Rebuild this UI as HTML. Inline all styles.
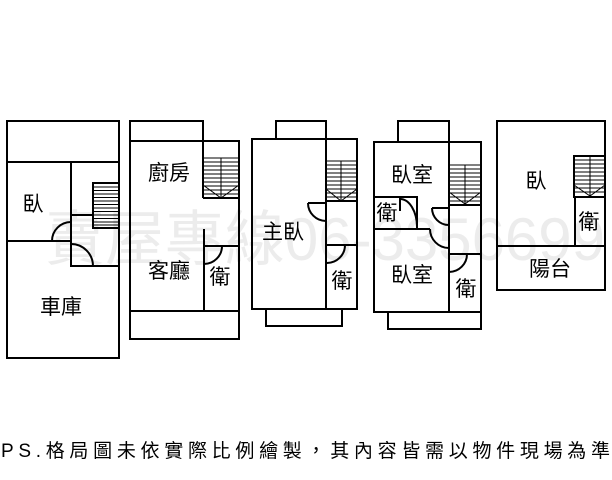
<!DOCTYPE html>
<html>
<head>
<meta charset="utf-8">
<style>
html,body{margin:0;padding:0;background:#fff;}
body{width:612px;height:480px;overflow:hidden;}
svg{display:block;}
.w{stroke:#000;stroke-width:2;fill:none;}
.t{stroke:#000;stroke-width:1;fill:none;}
.lab{font-family:"Liberation Sans","Noto Sans CJK TC",sans-serif;font-size:21px;fill:#000;text-anchor:middle;}
</style>
</head>
<body>
<svg width="612" height="480" viewBox="0 0 612 480" xmlns="http://www.w3.org/2000/svg">
<rect x="0" y="0" width="612" height="480" fill="#fff"/>
<!-- watermark -->
<text x="45" y="260" textLength="560" lengthAdjust="spacing" font-family="Liberation Sans, Noto Sans CJK TC, sans-serif" font-size="60" fill="#ececec">賣屋專線06-3356699</text>

<!-- Plan 1 -->
<g>
<rect class="w" x="7" y="121" width="112" height="237"/>
<line class="w" x1="7" y1="162" x2="119" y2="162"/>
<line class="w" x1="71" y1="162" x2="71" y2="267"/>
<line class="w" x1="7" y1="241" x2="71" y2="241"/>
<path class="w" d="M52 241 A19 19 0 0 1 71 222"/>
<line class="w" x1="71" y1="215" x2="93" y2="215"/>
<line class="w" x1="71" y1="266" x2="119" y2="266"/>
<path class="w" d="M71 244 A22 22 0 0 1 93 266"/>
<rect class="w" x="93" y="183" width="26" height="45"/>
<g class="t">
<line x1="93" y1="187" x2="119" y2="187"/><line x1="93" y1="190.5" x2="119" y2="190.5"/>
<line x1="93" y1="194" x2="119" y2="194"/><line x1="93" y1="197.5" x2="119" y2="197.5"/>
<line x1="93" y1="201" x2="119" y2="201"/><line x1="93" y1="204.5" x2="119" y2="204.5"/>
<line x1="93" y1="208" x2="119" y2="208"/><line x1="93" y1="211.5" x2="119" y2="211.5"/>
<line x1="93" y1="215" x2="119" y2="215"/><line x1="93" y1="218.5" x2="119" y2="218.5"/>
<line x1="93" y1="222" x2="119" y2="222"/><line x1="93" y1="225" x2="119" y2="225"/>
</g>
<text class="lab" x="33" y="211">臥</text>
<text class="lab" x="61" y="314" font-size="22">車庫</text>
</g>

<!-- Plan 2 -->
<g>
<line class="w" x1="130" y1="120" x2="130" y2="340"/>
<line class="w" x1="129" y1="121" x2="204" y2="121"/>
<line class="w" x1="203" y1="120" x2="203" y2="198"/>
<line class="w" x1="129" y1="141" x2="240" y2="141"/>
<line class="w" x1="239" y1="140" x2="239" y2="340"/>
<line class="w" x1="203" y1="198" x2="239" y2="198"/>
<g class="t">
<line x1="203" y1="158" x2="239" y2="158"/><line x1="203" y1="162" x2="239" y2="162"/>
<line x1="203" y1="166" x2="239" y2="166"/><line x1="203" y1="170" x2="239" y2="170"/>
<line x1="203" y1="174" x2="239" y2="174"/><line x1="203" y1="178" x2="239" y2="178"/>
<line x1="203" y1="182" x2="239" y2="182"/><line x1="203" y1="186" x2="239" y2="186"/>
<line x1="203" y1="190" x2="239" y2="190"/><line x1="203" y1="194" x2="239" y2="194"/>
<line x1="221" y1="158" x2="221" y2="198"/>
<polyline points="203,185 221,198 239,185"/>
</g>
<line class="w" x1="204" y1="229" x2="204" y2="311"/>
<line class="w" x1="204" y1="246" x2="239" y2="246"/>
<path class="w" d="M222 246 A18 18 0 0 1 204 264"/>
<line class="w" x1="129" y1="311" x2="240" y2="311"/>
<line class="w" x1="129" y1="339" x2="240" y2="339"/>
<text class="lab" x="169" y="180">廚房</text>
<text class="lab" x="169" y="278">客廳</text>
<text class="lab" x="220" y="284">衛</text>
</g>

<!-- Plan 3 -->
<g>
<rect class="w" x="276" y="121" width="50" height="18"/>
<rect class="w" x="252" y="139" width="105" height="170"/>
<line class="w" x1="326" y1="139" x2="326" y2="309"/>
<line class="w" x1="326" y1="201" x2="357" y2="201"/>
<g class="t">
<line x1="326" y1="161" x2="357" y2="161"/><line x1="326" y1="165" x2="357" y2="165"/>
<line x1="326" y1="169" x2="357" y2="169"/><line x1="326" y1="173" x2="357" y2="173"/>
<line x1="326" y1="177" x2="357" y2="177"/><line x1="326" y1="181" x2="357" y2="181"/>
<line x1="326" y1="185" x2="357" y2="185"/><line x1="326" y1="189" x2="357" y2="189"/>
<line x1="326" y1="193" x2="357" y2="193"/><line x1="326" y1="197" x2="357" y2="197"/>
<line x1="341" y1="161" x2="341" y2="201"/>
<polyline points="326,189 341,201 357,189"/>
</g>
<line class="w" x1="308" y1="203" x2="326" y2="203"/>
<path class="w" d="M308 203 A18 18 0 0 0 326 221"/>
<line class="w" x1="326" y1="245" x2="357" y2="245"/>
<path class="w" d="M345 245 A18 18 0 0 1 327 263"/>
<rect class="w" x="266" y="309" width="76" height="17"/>
<text class="lab" x="283" y="239">主臥</text>
<text class="lab" x="342" y="288">衛</text>
</g>

<!-- Plan 4 -->
<g>
<rect class="w" x="398" y="121" width="51" height="21"/>
<rect class="w" x="374" y="142" width="107" height="170"/>
<line class="w" x1="449" y1="142" x2="449" y2="312"/>
<line class="w" x1="449" y1="205" x2="481" y2="205"/>
<g class="t">
<line x1="449" y1="165" x2="481" y2="165"/><line x1="449" y1="169" x2="481" y2="169"/>
<line x1="449" y1="173" x2="481" y2="173"/><line x1="449" y1="177" x2="481" y2="177"/>
<line x1="449" y1="181" x2="481" y2="181"/><line x1="449" y1="185" x2="481" y2="185"/>
<line x1="449" y1="189" x2="481" y2="189"/><line x1="449" y1="193" x2="481" y2="193"/>
<line x1="449" y1="197" x2="481" y2="197"/><line x1="449" y1="201" x2="481" y2="201"/>
<line x1="465" y1="165" x2="465" y2="205"/>
<polyline points="449,192 465,204 481,192"/>
</g>
<line class="w" x1="432" y1="208" x2="449" y2="208"/>
<path class="w" d="M432 208 A17 17 0 0 0 449 225"/>
<rect class="w" x="374" y="197" width="43" height="32"/>
<line class="w" x1="400" y1="197" x2="400" y2="211"/>
<path class="w" d="M400 199 A17 28 0 0 1 417 227"/>
<line class="w" x1="374" y1="229" x2="430" y2="229"/>
<path class="w" d="M430 229 A19 19 0 0 0 449 248"/>
<line class="w" x1="449" y1="254" x2="481" y2="254"/>
<path class="w" d="M467 254 A18 18 0 0 1 449 272"/>
<rect class="w" x="388" y="312" width="93" height="17"/>
<text class="lab" x="412" y="182">臥室</text>
<text class="lab" x="387" y="220">衛</text>
<text class="lab" x="412" y="282">臥室</text>
<text class="lab" x="466" y="296">衛</text>
</g>

<!-- Plan 5 -->
<g>
<rect class="w" x="497" y="121" width="108" height="169"/>
<line class="w" x1="497" y1="246" x2="605" y2="246"/>
<rect class="w" x="574" y="156" width="31" height="41"/>
<g class="t">
<line x1="574" y1="160" x2="605" y2="160"/><line x1="574" y1="164" x2="605" y2="164"/>
<line x1="574" y1="168" x2="605" y2="168"/><line x1="574" y1="172" x2="605" y2="172"/>
<line x1="574" y1="176" x2="605" y2="176"/><line x1="574" y1="180" x2="605" y2="180"/>
<line x1="574" y1="184" x2="605" y2="184"/><line x1="574" y1="188" x2="605" y2="188"/>
<line x1="574" y1="192" x2="605" y2="192"/>
<line x1="590" y1="156" x2="590" y2="197"/>
<polyline points="574,185 590,196 605,185"/>
</g>
<line class="w" x1="575" y1="197" x2="575" y2="246"/>
<text class="lab" x="536" y="188">臥</text>
<text class="lab" x="589" y="229">衛</text>
<text class="lab" x="550" y="276">陽台</text>
</g>

<!-- footer -->
<text x="1" y="457" textLength="609" lengthAdjust="spacing" font-family="Liberation Sans, Noto Sans CJK TC, sans-serif" font-size="19" fill="#000">PS.格局圖未依實際比例繪製，其內容皆需以物件現場為準</text>
</svg>
</body>
</html>
